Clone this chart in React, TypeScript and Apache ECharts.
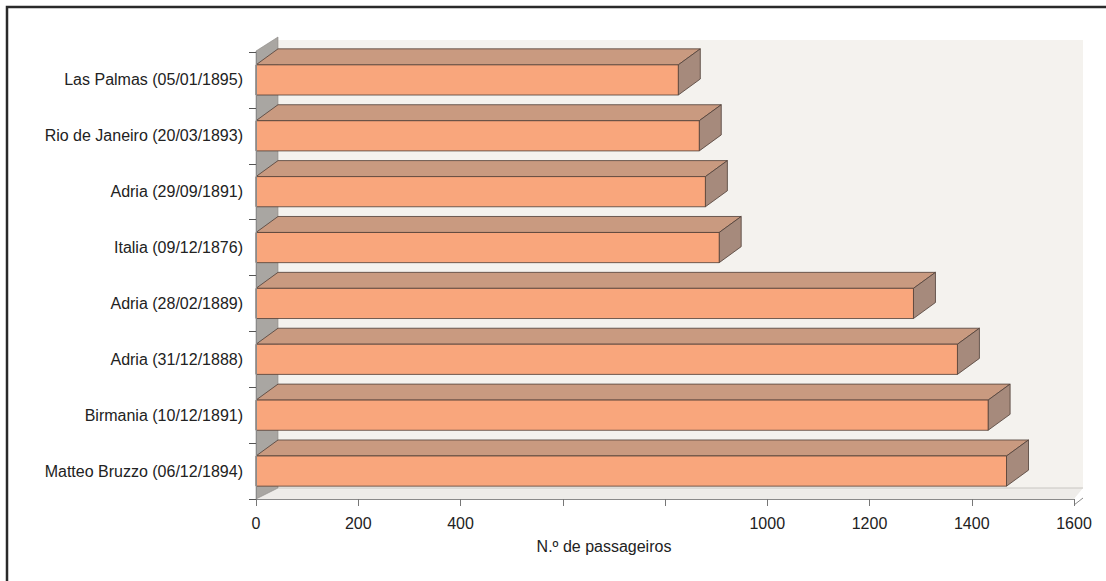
import React, { useEffect, useRef } from "react";
import * as echarts from "echarts";

const categories = [
  "Las Palmas (05/01/1895)",
  "Rio de Janeiro (20/03/1893)",
  "Adria (29/09/1891)",
  "Italia (09/12/1876)",
  "Adria (28/02/1889)",
  "Adria (31/12/1888)",
  "Birmania (10/12/1891)",
  "Matteo Bruzzo (06/12/1894)",
];
const passengers = [826, 867, 879, 906, 1286, 1372, 1432, 1468];
const xTickLabels = ["0", "200", "400", "", "", "1000", "1200", "1400", "1600"];
const axisTitle = "N.º de passageiros";

const DX = 22;
const DY = -16;
const FRONT = "#f9a67c";
const TOP = "#c99a80";
const SIDE = "#a68a7c";
const EDGE = "#4e3e36";
const FONT = "Liberation Sans, Arial, sans-serif";

export default function App() {
  const ref = useRef<HTMLDivElement>(null);
  useEffect(() => {
    const chart = echarts.init(ref.current!, null, { renderer: "svg" });

    const renderFrame = (params: any) => {
      const cs = params.coordSys;
      const gx = cs.x, gy = cs.y, gw = cs.width, gh = cs.height;
      return {
        type: "group",
        children: [
          {
            type: "rect",
            shape: { x: gx + DX, y: gy - 12, width: gw - 13, height: gh + 1 },
            style: { fill: "#f4f2ee" },
          },
          {
            type: "polygon",
            shape: { points: [[gx, gy + gh], [gx + gw, gy + gh], [gx + gw + 9, gy + gh - 11], [gx + DX, gy + gh - 11]] },
            style: { fill: "#eeece9" },
          },
          {
            type: "line",
            shape: { x1: gx + DX, y1: gy + gh - 11, x2: gx + gw + 9, y2: gy + gh - 11 },
            style: { stroke: "#c8c6c2", lineWidth: 1 },
          },
          {
            type: "polygon",
            shape: { points: [[gx, gy - 1], [gx + DX, gy - 15], [gx + DX, gy + gh - 11], [gx, gy + gh]] },
            style: { fill: "#a9a6a2", stroke: "#8a8783", lineWidth: 0.6 },
          },
          {
            type: "line",
            shape: { x1: gx + gw, y1: gy + gh + 6, x2: gx + gw + 9, y2: gy + gh - 1 },
            style: { stroke: "#888", lineWidth: 1 },
          },
        ],
      };
    };

    const renderBar = (params: any, api: any) => {
      const cat = api.value(0);
      const val = api.value(1);
      const start = api.coord([0, cat]);
      const end = api.coord([val, cat]);
      const band = api.size([0, 1])[1];
      const h = band * 0.54;
      const top = start[1] - h / 2;
      const x0 = start[0];
      const x1 = end[0];
      return {
        type: "group",
        children: [
          {
            type: "polygon",
            shape: { points: [[x0, top], [x1, top], [x1 + DX, top + DY], [x0 + DX, top + DY]] },
            style: { fill: TOP, stroke: EDGE, lineWidth: 0.8 },
          },
          {
            type: "polygon",
            shape: { points: [[x1, top], [x1 + DX, top + DY], [x1 + DX, top + DY + h], [x1, top + h]] },
            style: { fill: SIDE, stroke: EDGE, lineWidth: 0.8 },
          },
          {
            type: "rect",
            shape: { x: x0, y: top, width: x1 - x0, height: h },
            style: { fill: FRONT, stroke: EDGE, lineWidth: 0.8 },
          },
        ],
      };
    };

    chart.setOption({
      animation: false,
      backgroundColor: "#ffffff",
      textStyle: { fontFamily: FONT },
      graphic: [
        {
          type: "rect",
          shape: { x: 7, y: 7, width: 1120, height: 600 },
          style: { fill: "none", stroke: "#2a2a2a", lineWidth: 2.5 },
          silent: true,
        },
      ],
      grid: { left: 256, top: 52, width: 818, height: 447, containLabel: false },
      xAxis: {
        type: "value",
        min: 0,
        max: 1600,
        interval: 200,
        z: 5,
        splitLine: { show: false },
        axisLine: { show: true, lineStyle: { color: "#8a8a8a", width: 1 } },
        axisTick: { show: true, length: 7, lineStyle: { color: "#777" } },
        axisLabel: {
          margin: 16,
          fontSize: 16,
          color: "#222",
          fontFamily: FONT,
          formatter: (v: number) => xTickLabels[Math.round(v / 200)] ?? "",
        },
        name: axisTitle,
        nameLocation: "middle",
        nameGap: 39,
        nameTextStyle: { fontSize: 16, color: "#222", fontFamily: FONT, padding: [0, 122, 0, 0] },
      },
      yAxis: {
        type: "category",
        data: categories,
        inverse: true,
        z: 5,
        axisLine: { show: true, lineStyle: { color: "#8a8a8a", width: 1 } },
        axisTick: { show: true, length: 7, lineStyle: { color: "#555" } },
        axisLabel: { margin: 13, fontSize: 16, color: "#222", fontFamily: FONT },
        splitLine: { show: false },
      },
      series: [
        {
          type: "custom",
          z: 1,
          silent: true,
          renderItem: renderFrame,
          data: [[0, 0]],
          encode: { x: 1, y: 0 },
        },
        {
          type: "custom",
          z: 3,
          silent: true,
          renderItem: renderBar,
          data: passengers.map((v, i) => [i, v]),
          encode: { x: 1, y: 0 },
        },
      ],
    });
    return () => chart.dispose();
  }, []);
  return (
    <div
      ref={ref}
      style={{ position: "fixed", left: 0, top: 0, width: 1106, height: 581 }}
    />
  );
}
